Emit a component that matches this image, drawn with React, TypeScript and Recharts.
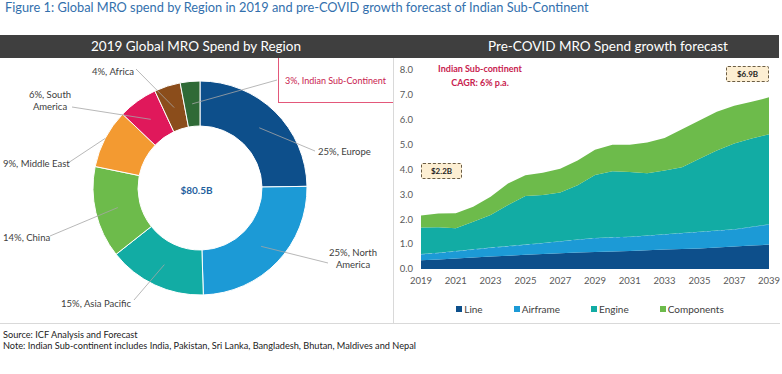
import { Area, AreaChart, Cell, Label, Legend, Pie, PieChart, XAxis, YAxis } from "recharts";

const FONT = "Lato, 'Open Sans', sans-serif";

// donut: 2019 share of global MRO spend (%)
const regions = [
  "Europe",
  "North America",
  "Asia Pacific",
  "China",
  "Middle East",
  "South America",
  "Africa",
  "Indian Sub-Continent",
];
const shares = [25, 25, 15, 14, 9, 6, 4, 3];
const regionColors = ["#0d4f8b", "#1c9ad6", "#12aca4", "#6dbb4b", "#f39a31", "#e0185b", "#8b4d1b", "#2f6a36"];

// area: Indian Sub-continent MRO spend, $B
const years = [
  2019, 2020, 2021, 2022, 2023, 2024, 2025, 2026, 2027, 2028, 2029, 2030, 2031, 2032, 2033, 2034,
  2035, 2036, 2037, 2038, 2039,
];
const lineSpend = [
  0.35, 0.38, 0.42, 0.46, 0.5, 0.53, 0.57, 0.6, 0.63, 0.66, 0.68, 0.7, 0.72, 0.75, 0.78, 0.8, 0.82,
  0.86, 0.9, 0.94, 0.98,
];
const airframeSpend = [
  0.25, 0.27, 0.3, 0.33, 0.36, 0.39, 0.41, 0.45, 0.49, 0.53, 0.57, 0.58, 0.58, 0.6, 0.62, 0.65, 0.68,
  0.69, 0.7, 0.76, 0.82,
];
const engineSpend = [
  1.07, 1.03, 0.92, 1.11, 1.31, 1.65, 1.95, 1.92, 1.96, 2.18, 2.53, 2.65, 2.6, 2.5, 2.56, 2.64, 2.93,
  3.21, 3.45, 3.55, 3.62,
];
const componentsSpend = [
  0.48, 0.55, 0.6, 0.6, 0.73, 0.87, 0.84, 0.9, 0.95, 0.99, 1.01, 1.06, 1.09, 1.24, 1.31, 1.53, 1.54,
  1.56, 1.51, 1.47, 1.48,
];
const yTicks = [0, 1, 2, 3, 4, 5, 6, 7, 8];

const seriesKeys = ["Line", "Airframe", "Engine", "Components"];
const seriesColors = ["#0d4f8b", "#1c9ad6", "#12aca4", "#6dbb4b"];

const pieData = regions.map((name, i) => ({ name, value: shares[i] }));
const areaData = years.map((year, i) => ({
  year,
  Line: lineSpend[i],
  Airframe: airframeSpend[i],
  Engine: engineSpend[i],
  Components: componentsSpend[i],
}));

// label placement for donut (container coords), start radius of leader line
const labelLayout: Record<string, any> = {
  Europe: { x: 318, y: 93, anchor: "start", ex: 315, ey: 93 },
  "North America": { x: 353, y: 200, anchor: "middle", wrap: true, ex: 328, ey: 205 },
  "Asia Pacific": { x: 96, y: 245, anchor: "middle", ex: 134, ey: 242 },
  China: { x: 3, y: 179, anchor: "start", ex: 50, ey: 178 },
  "Middle East": { x: 3, y: 105, anchor: "start", ex: 68, ey: 105, r: 107 },
  "South America": { x: 50, y: 42, anchor: "middle", wrap: true, ex: 72, ey: 49 },
  Africa: { x: 92, y: 13, anchor: "start", ex: 136, ey: 11 },
  "Indian Sub-Continent": { x: 285, y: 22, anchor: "start", ex: 277, ey: 22, color: "#c8214e", size: 9 },
};

const RAD = Math.PI / 180;

function renderPieLabel(props: any) {
  const { cx, cy, midAngle, innerRadius, outerRadius, index } = props;
  const name = regions[index];
  const value = shares[index];
  const lay = labelLayout[name];
  const r = lay.r ?? (innerRadius + outerRadius) / 2;
  const sx = cx + Math.cos(-midAngle * RAD) * r;
  const sy = cy + Math.sin(-midAngle * RAD) * r;
  const words = name.split(" ");
  const lines = lay.wrap
    ? [`${value}%, ${words[0]}`, words.slice(1).join(" ")]
    : [`${value}%, ${name}`];
  return (
    <g key={name}>
      <line x1={sx} y1={sy} x2={lay.ex} y2={lay.ey} stroke="#a6a6a6" strokeWidth={0.8} />
      <text
        x={lay.x}
        y={lay.y - (lines.length - 1) * 6}
        textAnchor={lay.anchor}
        dominantBaseline="central"
        fontSize={lay.size ?? 9.5}
        fontFamily={FONT}
        fill={lay.color ?? "#404040"}
      >
        {lines.map((t, i) => (
          <tspan key={i} x={lay.x} dy={i === 0 ? 0 : 12}>
            {t}
          </tspan>
        ))}
      </text>
    </g>
  );
}

function SeriesLegend() {
  return (
    <div
      style={{
        display: "flex",
        justifyContent: "center",
        gap: 31,
        fontFamily: FONT,
        fontSize: 10,
        color: "#404040",
        lineHeight: "20px",
        paddingLeft: 8,
      }}
    >
      {seriesKeys.map((k, i) => (
        <span key={k} style={{ display: "flex", alignItems: "center", gap: 2 }}>
          <span style={{ width: 6, height: 6, background: seriesColors[i], display: "inline-block" }} />
          {k}
        </span>
      ))}
    </div>
  );
}

const valueBox: React.CSSProperties = {
  position: "absolute",
  background: "#fdefd3",
  border: "1px dashed #6b5d45",
  borderRadius: 2,
  fontFamily: FONT,
  fontWeight: 700,
  fontSize: 8,
  color: "#222",
  display: "flex",
  alignItems: "center",
  justifyContent: "center",
  boxSizing: "border-box",
};

export default function App() {
  return (
    <div
      style={{
        position: "absolute",
        left: 0,
        top: 0,
        width: 782,
        height: 374,
        background: "#fff",
        fontFamily: FONT,
        overflow: "hidden",
      }}
    >
      <div style={{ position: "absolute", left: 5, top: 0, fontSize: 12.8, color: "#3370ad", lineHeight: "15px" }}>
        Figure 1: Global MRO spend by Region in 2019 and pre-COVID growth forecast of Indian Sub-Continent
      </div>

      <div style={{ position: "absolute", left: 0, top: 35, width: 779, height: 23, background: "#3f3f3f" }} />
      <div
        style={{
          position: "absolute",
          left: 0,
          top: 35,
          width: 392,
          height: 23,
          lineHeight: "23px",
          textAlign: "center",
          color: "#fff",
          fontSize: 13.5,
        }}
      >
        2019 Global MRO Spend by Region
      </div>
      <div
        style={{
          position: "absolute",
          left: 420,
          top: 35,
          width: 376,
          height: 23,
          lineHeight: "23px",
          textAlign: "center",
          color: "#fff",
          fontSize: 13.5,
        }}
      >
        Pre-COVID MRO Spend growth forecast
      </div>

      {/* frame lines */}
      <div style={{ position: "absolute", left: 393, top: 58, width: 1, height: 266, background: "#d9d9d9" }} />
      <div style={{ position: "absolute", left: 0, top: 323, width: 780, height: 1, background: "#d9d9d9" }} />
      <div style={{ position: "absolute", left: 278, top: 58, width: 1, height: 44, background: "#e3587a" }} />
      <div style={{ position: "absolute", left: 278, top: 102, width: 115, height: 1, background: "#e3587a" }} />

      <div style={{ position: "absolute", left: 0, top: 58 }}>
        <PieChart width={393} height={265} margin={{ top: 0, right: 0, bottom: 0, left: 0 }}>
          <Pie
            data={pieData}
            dataKey="value"
            nameKey="name"
            cx={200}
            cy={130}
            innerRadius={62}
            outerRadius={107}
            startAngle={90}
            endAngle={-270}
            stroke="#fff"
            strokeWidth={1}
            label={renderPieLabel}
            labelLine={false}
            isAnimationActive={false}
          >
            {pieData.map((d, i) => (
              <Cell key={d.name} fill={regionColors[i]} />
            ))}
            <Label
              value="$80.5B"
              position="center"
              fill="#1f5f9e"
              fontSize={10}
              fontWeight={700}
              fontFamily={FONT}
            />
          </Pie>
        </PieChart>
      </div>

      <div style={{ position: "absolute", left: 390, top: 58 }}>
        <AreaChart width={392} height={265} data={areaData} margin={{ top: 12, right: 13, bottom: 4, left: 0 }}>
          <XAxis
            dataKey="year"
            interval={1}
            tickLine={false}
            axisLine={false}
            height={30}
            tick={{ fontSize: 9.5, fill: "#595959", fontFamily: FONT }}
          />
          <YAxis
            width={31}
            domain={[0, 8]}
            ticks={yTicks}
            tickFormatter={(v) => Number(v).toFixed(1)}
            tickLine={false}
            axisLine={false}
            tick={{ fontSize: 9.5, fill: "#595959", fontFamily: FONT }}
          />
          <Legend
            verticalAlign="bottom"
            height={20}
            content={<SeriesLegend />}
            wrapperStyle={{ left: 0, width: 392 }}
          />
          {seriesKeys.map((k, i) => (
            <Area
              key={k}
              type="linear"
              dataKey={k}
              stackId="1"
              fill={seriesColors[i]}
              fillOpacity={1}
              stroke={k === "Airframe" ? "#bfe3f2" : "none"}
              strokeDasharray={k === "Airframe" ? "4 3" : undefined}
              strokeWidth={k === "Airframe" ? 0.7 : 0}
              isAnimationActive={false}
            />
          ))}
        </AreaChart>
      </div>

      {/* annotations on the forecast */}
      <div
        style={{
          position: "absolute",
          left: 420,
          top: 62,
          width: 120,
          textAlign: "center",
          color: "#c8214e",
          fontWeight: 700,
          fontSize: 9,
          lineHeight: "14px",
        }}
      >
        Indian Sub-continent
        <br />
        CAGR: 6% p.a.
      </div>
      <div style={{ ...valueBox, left: 421, top: 163, width: 41, height: 16 }}>$2.2B</div>
      <div style={{ ...valueBox, left: 726, top: 66, width: 43, height: 16 }}>$6.9B</div>

      <div style={{ position: "absolute", left: 3, top: 329, fontSize: 9.2, color: "#222", lineHeight: "11px" }}>
        Source: ICF Analysis and Forecast
        <br />
        Note: Indian Sub-continent includes India, Pakistan, Sri Lanka, Bangladesh, Bhutan, Maldives and Nepal
      </div>
    </div>
  );
}
